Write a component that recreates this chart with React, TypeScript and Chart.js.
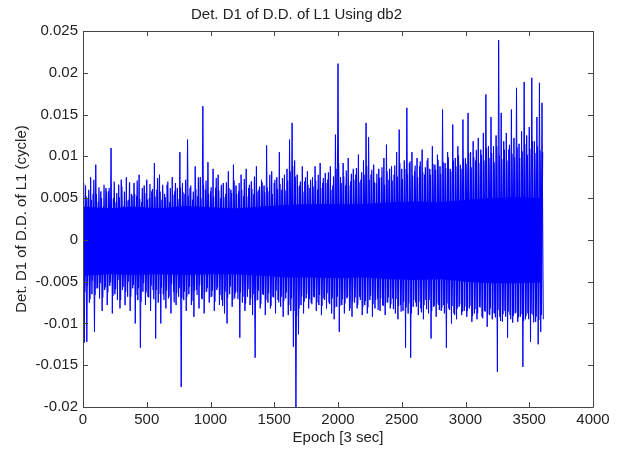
import React, { useEffect, useRef } from "react";
import { Chart, registerables } from "chart.js";

Chart.register(...registerables);

const TITLE = "Det. D1 of D.D. of L1 Using db2";
const X_LABEL = "Epoch [3 sec]";
const Y_LABEL = "Det. D1 of D.D. of L1 (cycle)";

const X_TICKS = [0, 500, 1000, 1500, 2000, 2500, 3000, 3500, 4000];
const Y_TICKS = [-0.02, -0.015, -0.01, -0.005, 0, 0.005, 0.01, 0.015, 0.02, 0.025];

// epoch spacing between successive positive extremes
const STEP = 20;

// tallest positive extremes at epochs 0, 20, 40, ... 3600
const upperPeaks = [
  0.011, 0.0065, 0.005, 0.0075, 0.0055, 0.009, 0.0045, 0.0058, 0.004, 0.0062,
  0.0058, 0.011, 0.005, 0.0045, 0.0066, 0.0072, 0.004, 0.0075, 0.0048, 0.0055,
  0.0068, 0.0052, 0.0078, 0.0045, 0.0065, 0.0072, 0.005, 0.0058, 0.0092, 0.006,
  0.0078, 0.0048, 0.0055, 0.0066, 0.0045, 0.0075, 0.0058, 0.0062, 0.0105, 0.0068,
  0.0055, 0.012, 0.0062, 0.0048, 0.0088, 0.0052, 0.0075, 0.016, 0.006, 0.0093,
  0.0058, 0.0085, 0.0062, 0.0078, 0.005, 0.0068, 0.0055, 0.0082, 0.006, 0.009,
  0.0065, 0.0058, 0.0078, 0.0052, 0.0085, 0.0062, 0.007, 0.0055, 0.0088, 0.006,
  0.0072, 0.0065, 0.0113, 0.0058, 0.0082, 0.0068, 0.0075, 0.0105, 0.006, 0.0078,
  0.0085, 0.012, 0.014, 0.0095, 0.0078, 0.0065, 0.0088, 0.007, 0.0082, 0.0062,
  0.0075, 0.0088, 0.006, 0.0092, 0.0068, 0.008, 0.0072, 0.0088, 0.0065, 0.0126,
  0.0211, 0.0075, 0.0092, 0.0065, 0.0098, 0.007, 0.0085, 0.0078, 0.0102, 0.0072,
  0.0095, 0.014, 0.0123, 0.0078, 0.009, 0.0068, 0.0085, 0.0075, 0.0098, 0.0114,
  0.0072, 0.0088, 0.0078, 0.0105, 0.0132, 0.0085, 0.0095, 0.0158, 0.0092, 0.0105,
  0.0082, 0.0098, 0.0088, 0.0108, 0.0078, 0.0095, 0.0085, 0.0112, 0.009, 0.0102,
  0.0088, 0.0156, 0.0092, 0.0105, 0.0085, 0.0138, 0.0098, 0.0112, 0.009, 0.0144,
  0.0098, 0.0152, 0.0105, 0.0118, 0.0095, 0.0122, 0.0108, 0.0128, 0.0174, 0.0112,
  0.0147, 0.0112, 0.0125, 0.0239, 0.0152, 0.0118, 0.0128, 0.0108, 0.0156, 0.0122,
  0.0182, 0.0115, 0.013, 0.0189, 0.0125, 0.0135, 0.0194, 0.0118, 0.0147, 0.0188,
  0.0164,
];

// deepest negative extremes at epochs 10, 30, 50, ... 3610
const lowerPeaks = [
  -0.0123, -0.0122, -0.0075, -0.0065, -0.011, -0.0058, -0.007, -0.0085, -0.006, -0.0078,
  -0.0055, -0.0088, -0.0065, -0.0072, -0.0082, -0.006, -0.0078, -0.0068, -0.0085, -0.0058,
  -0.01, -0.0072, -0.0129, -0.0062, -0.0078, -0.0068, -0.0085, -0.006, -0.0118, -0.0075,
  -0.01, -0.0065, -0.0082, -0.007, -0.0088, -0.0062, -0.0078, -0.0068, -0.0176, -0.0072,
  -0.0085, -0.0065, -0.0078, -0.0092, -0.006, -0.0082, -0.007, -0.0088, -0.0062, -0.0075,
  -0.0068, -0.0085, -0.006, -0.0078, -0.0072, -0.0088, -0.01, -0.0065, -0.008, -0.007,
  -0.0062, -0.0117, -0.0075, -0.0085, -0.0068, -0.0078, -0.009, -0.0141, -0.0072, -0.0082,
  -0.0065, -0.009, -0.0075, -0.0082, -0.0068, -0.0088, -0.0072, -0.008, -0.0092, -0.007,
  -0.009, -0.0085, -0.0128, -0.0205, -0.0113, -0.0078, -0.0088, -0.007, -0.0082, -0.0075,
  -0.0068, -0.0085, -0.0078, -0.009, -0.007, -0.0082, -0.0075, -0.0088, -0.0095, -0.008,
  -0.011, -0.0078, -0.0088, -0.007, -0.0085, -0.0092, -0.0075, -0.0082, -0.0068, -0.009,
  -0.0078, -0.0088, -0.0072, -0.0092, -0.0082, -0.007, -0.0085, -0.0078, -0.009, -0.0075,
  -0.0082, -0.007, -0.0088, -0.0095, -0.0078, -0.0085, -0.0129, -0.0088, -0.0141, -0.008,
  -0.0075, -0.009, -0.0082, -0.0095, -0.0072, -0.0088, -0.0118, -0.008, -0.0092, -0.0078,
  -0.0085, -0.0078, -0.0129, -0.0082, -0.01, -0.0088, -0.0095, -0.008, -0.009, -0.0085,
  -0.0092, -0.0082, -0.0098, -0.0088, -0.0095, -0.008, -0.0092, -0.0085, -0.0104, -0.009,
  -0.0095, -0.0088, -0.0158, -0.0092, -0.0098, -0.0085, -0.0117, -0.009, -0.0099, -0.0088,
  -0.0098, -0.0092, -0.0152, -0.0095, -0.0088, -0.0122, -0.009, -0.0098, -0.0125, -0.011,
  -0.0095,
];

// medium positive swings between the tall ones, at epochs 5, 25, 45, ... 3605
const midUpper = [
  0.0068, 0.0052, 0.006, 0.0048, 0.0072, 0.0055, 0.0063, 0.005, 0.0066, 0.0058,
  0.0062, 0.0049, 0.007, 0.0056, 0.0051, 0.0064, 0.0058, 0.0047, 0.0069, 0.0053,
  0.0055, 0.0071, 0.0049, 0.0062, 0.0056, 0.0048, 0.0067, 0.0061, 0.0052, 0.0074,
  0.0058, 0.0066, 0.0051, 0.007, 0.0062, 0.0054, 0.0068, 0.0049, 0.0063, 0.0057,
  0.0072, 0.0053, 0.0065, 0.0058, 0.0061, 0.0075, 0.005, 0.0066, 0.0071, 0.0055,
  0.0063, 0.0052, 0.0074, 0.0059, 0.0066, 0.0051, 0.0069, 0.0062, 0.0056, 0.0071,
  0.0055, 0.0068, 0.006, 0.0073, 0.0052, 0.0066, 0.0061, 0.0076, 0.0058, 0.0064,
  0.0069, 0.0057, 0.0063, 0.0078, 0.0055, 0.0072, 0.0061, 0.0067, 0.0074, 0.0059,
  0.0071, 0.0082, 0.0088, 0.0076, 0.0064, 0.007, 0.0058, 0.0075, 0.0066, 0.0072,
  0.0064, 0.0071, 0.0078, 0.0062, 0.0074, 0.0068, 0.0081, 0.006, 0.0076, 0.0085,
  0.0092, 0.0068, 0.0076, 0.0083, 0.0065, 0.0079, 0.0072, 0.0086, 0.0069, 0.0081,
  0.0078, 0.0088, 0.0072, 0.0084, 0.0069, 0.0079, 0.0074, 0.0087, 0.0066, 0.0082,
  0.0085, 0.0071, 0.0089, 0.0076, 0.0092, 0.0073, 0.0085, 0.0079, 0.0094, 0.0077,
  0.0089, 0.0075, 0.0094, 0.0081, 0.0087, 0.0098, 0.0078, 0.0091, 0.0084, 0.0096,
  0.0079, 0.0093, 0.0086, 0.0099, 0.0082, 0.0095, 0.0088, 0.0101, 0.0085, 0.0097,
  0.0091, 0.0104, 0.0087, 0.0099, 0.0108, 0.0092, 0.0102, 0.0095, 0.011, 0.0098,
  0.0104, 0.0093, 0.0112, 0.0101, 0.0097, 0.0108, 0.0095, 0.0114, 0.0103, 0.0099,
  0.0111, 0.0098, 0.0106, 0.0115, 0.0102, 0.0109, 0.0118, 0.0104, 0.0112, 0.0107,
  0.0105,
];

// medium negative swings, at epochs 15, 35, 55, ... 3595
const midLower = [
  -0.0062, -0.0055, -0.0071, -0.0049, -0.0066, -0.0058, -0.0052, -0.0069, -0.0057, -0.0063,
  -0.0051, -0.0067, -0.0059, -0.0048, -0.0072, -0.0056, -0.0062, -0.005, -0.0068, -0.0054,
  -0.0066, -0.0058, -0.0074, -0.0052, -0.0063, -0.0069, -0.0055, -0.0071, -0.006, -0.0065,
  -0.0057, -0.0072, -0.0061, -0.0068, -0.0053, -0.0075, -0.0064, -0.0058, -0.007, -0.0062,
  -0.0068, -0.0056, -0.0073, -0.0061, -0.0066, -0.0054, -0.0071, -0.0063, -0.0058, -0.0069,
  -0.0061, -0.0074, -0.0057, -0.0066, -0.0079, -0.0062, -0.0069, -0.0056, -0.0072, -0.0064,
  -0.0071, -0.0063, -0.0068, -0.0076, -0.0059, -0.007, -0.0065, -0.0073, -0.0061, -0.0077,
  -0.0066, -0.0072, -0.0064, -0.0079, -0.0069, -0.0061, -0.0075, -0.0068, -0.0073, -0.0063,
  -0.0078, -0.007, -0.0085, -0.0091, -0.0082, -0.0068, -0.0074, -0.0065, -0.0071, -0.0077,
  -0.0069, -0.0075, -0.0066, -0.0079, -0.0072, -0.0064, -0.0077, -0.007, -0.0081, -0.0068,
  -0.0079, -0.0071, -0.0076, -0.0068, -0.0082, -0.0074, -0.0069, -0.0078, -0.0072, -0.008,
  -0.0073, -0.0081, -0.0067, -0.0077, -0.0072, -0.0084, -0.007, -0.0079, -0.0075, -0.0069,
  -0.0077, -0.0083, -0.0071, -0.0079, -0.0086, -0.0074, -0.0081, -0.0076, -0.0088, -0.0072,
  -0.008, -0.0074, -0.0087, -0.0078, -0.0083, -0.0072, -0.0085, -0.0079, -0.0076, -0.0084,
  -0.0081, -0.0088, -0.0076, -0.0084, -0.0079, -0.009, -0.0082, -0.0077, -0.0086, -0.008,
  -0.0085, -0.0079, -0.0091, -0.0083, -0.0088, -0.0081, -0.0094, -0.0086, -0.0089, -0.0082,
  -0.0088, -0.0093, -0.0084, -0.0097, -0.0089, -0.0092, -0.0086, -0.0095, -0.0091, -0.0087,
  -0.0093, -0.0089, -0.0097, -0.0091, -0.0095, -0.0088, -0.0099, -0.0092, -0.0096, -0.009,
];

// dense solid core of the trace, read every 200 epochs (0 ... 3600)
const CORE_STEP = 200;
const coreUpper = [
  0.004, 0.0038, 0.004, 0.0038, 0.0041, 0.0039, 0.0038, 0.004, 0.0042, 0.0043,
  0.0043, 0.0043, 0.0045, 0.0046, 0.0045, 0.0048, 0.005, 0.0051, 0.005,
];
const coreLower = [
  -0.0043, -0.0041, -0.0042, -0.0041, -0.0042, -0.0041, -0.0041, -0.0043, -0.0045, -0.0045,
  -0.0046, -0.0045, -0.0047, -0.0048, -0.0047, -0.005, -0.0052, -0.0052, -0.0051,
];

const FONT_FAMILY = "'Liberation Sans', Arial, sans-serif";
const TEXT_COLOR = "#222";
const AXIS_COLOR = "#444";
const TRACE_COLOR = "#0000ff";

const fmt = (v: number) => String(Number(Number(v).toFixed(4)));

const boxAndTicks = {
  id: "boxAndTicks",
  afterDraw(chart: any) {
    const { ctx, chartArea, scales } = chart;
    const { left, right, top, bottom } = chartArea;
    const xs = scales.x;
    const ys = scales.y;
    const len = 5;
    ctx.save();
    ctx.strokeStyle = AXIS_COLOR;
    ctx.lineWidth = 1;
    ctx.beginPath();
    ctx.rect(Math.round(left) + 0.5, Math.round(top) + 0.5, Math.round(right - left), Math.round(bottom - top));
    for (const v of X_TICKS) {
      const px = Math.round(xs.getPixelForValue(v)) + 0.5;
      ctx.moveTo(px, bottom);
      ctx.lineTo(px, bottom - len);
      ctx.moveTo(px, top);
      ctx.lineTo(px, top + len);
    }
    for (const v of Y_TICKS) {
      const py = Math.round(ys.getPixelForValue(v)) + 0.5;
      ctx.moveTo(left, py);
      ctx.lineTo(left + len, py);
      ctx.moveTo(right, py);
      ctx.lineTo(right - len, py);
    }
    ctx.stroke();
    ctx.restore();
  },
};

const lineStyle = {
  showLine: true,
  borderColor: TRACE_COLOR,
  backgroundColor: TRACE_COLOR,
  borderWidth: 1,
  pointRadius: 0,
  tension: 0,
  fill: false,
};

export default function App() {
  const canvasRef = useRef<HTMLCanvasElement | null>(null);

  useEffect(() => {
    if (!canvasRef.current) return;
    const tall: { x: number; y: number }[] = [];
    for (let i = 0; i < upperPeaks.length; i++) {
      tall.push({ x: i * STEP, y: upperPeaks[i] });
      if (i < lowerPeaks.length) tall.push({ x: i * STEP + STEP / 2, y: lowerPeaks[i] });
    }
    const mid: { x: number; y: number }[] = [];
    for (let i = 0; i < midUpper.length; i++) {
      mid.push({ x: i * STEP + STEP / 4, y: midUpper[i] });
      if (i < midLower.length) mid.push({ x: i * STEP + (3 * STEP) / 4, y: midLower[i] });
    }
    const coreUp = coreUpper.map((v, i) => ({ x: i * CORE_STEP, y: v }));
    const coreLo = coreLower.map((v, i) => ({ x: i * CORE_STEP, y: v }));

    const chart = new Chart(canvasRef.current, {
      type: "scatter",
      data: {
        datasets: [
          { ...lineStyle, data: coreUp, borderWidth: 0, fill: "+1", order: 3 },
          { ...lineStyle, data: coreLo, borderWidth: 0, order: 3 },
          { ...lineStyle, data: mid, borderWidth: 1.2, order: 2 },
          { ...lineStyle, data: tall, order: 1 },
        ],
      },
      plugins: [boxAndTicks],
      options: {
        animation: false,
        responsive: false,
        events: [],
        layout: { padding: { left: 0, right: 27, top: 0, bottom: 0 } },
        plugins: {
          legend: { display: false },
          tooltip: { enabled: false },
          filler: { propagate: false },
          title: {
            display: true,
            text: TITLE,
            color: TEXT_COLOR,
            font: { family: FONT_FAMILY, size: 15, weight: "normal" },
            padding: { top: 6, bottom: 7 },
          },
        },
        scales: {
          x: {
            type: "linear",
            min: 0,
            max: 4000,
            afterBuildTicks: (s: any) => {
              s.ticks = X_TICKS.map((v) => ({ value: v }));
            },
            afterFit: (s: any) => {
              s.height = 43;
            },
            grid: { display: false, drawTicks: false },
            border: { display: false },
            ticks: {
              padding: 4,
              color: TEXT_COLOR,
              font: { family: FONT_FAMILY, size: 15 },
              maxRotation: 0,
              autoSkip: false,
              callback: (v: any) => fmt(v),
            },
            title: {
              display: true,
              text: X_LABEL,
              color: TEXT_COLOR,
              font: { family: FONT_FAMILY, size: 15 },
              padding: { top: 0, bottom: 3 },
            },
          },
          y: {
            type: "linear",
            min: -0.02,
            max: 0.025,
            afterBuildTicks: (s: any) => {
              s.ticks = Y_TICKS.map((v) => ({ value: v }));
            },
            afterFit: (s: any) => {
              s.width = 83;
            },
            grid: { display: false, drawTicks: false },
            border: { display: false },
            ticks: {
              padding: 5,
              color: TEXT_COLOR,
              font: { family: FONT_FAMILY, size: 15 },
              autoSkip: false,
              callback: (v: any) => fmt(v),
            },
            title: {
              display: true,
              text: Y_LABEL,
              color: TEXT_COLOR,
              font: { family: FONT_FAMILY, size: 15 },
              padding: { top: 13, bottom: 0 },
            },
          },
        },
      },
    } as any);

    return () => chart.destroy();
  }, []);

  return (
    <div style={{ position: "absolute", left: 0, top: 0, width: 620, height: 450, background: "#fff" }}>
      <canvas ref={canvasRef} width={620} height={450} style={{ display: "block", width: 620, height: 450 }} />
    </div>
  );
}
